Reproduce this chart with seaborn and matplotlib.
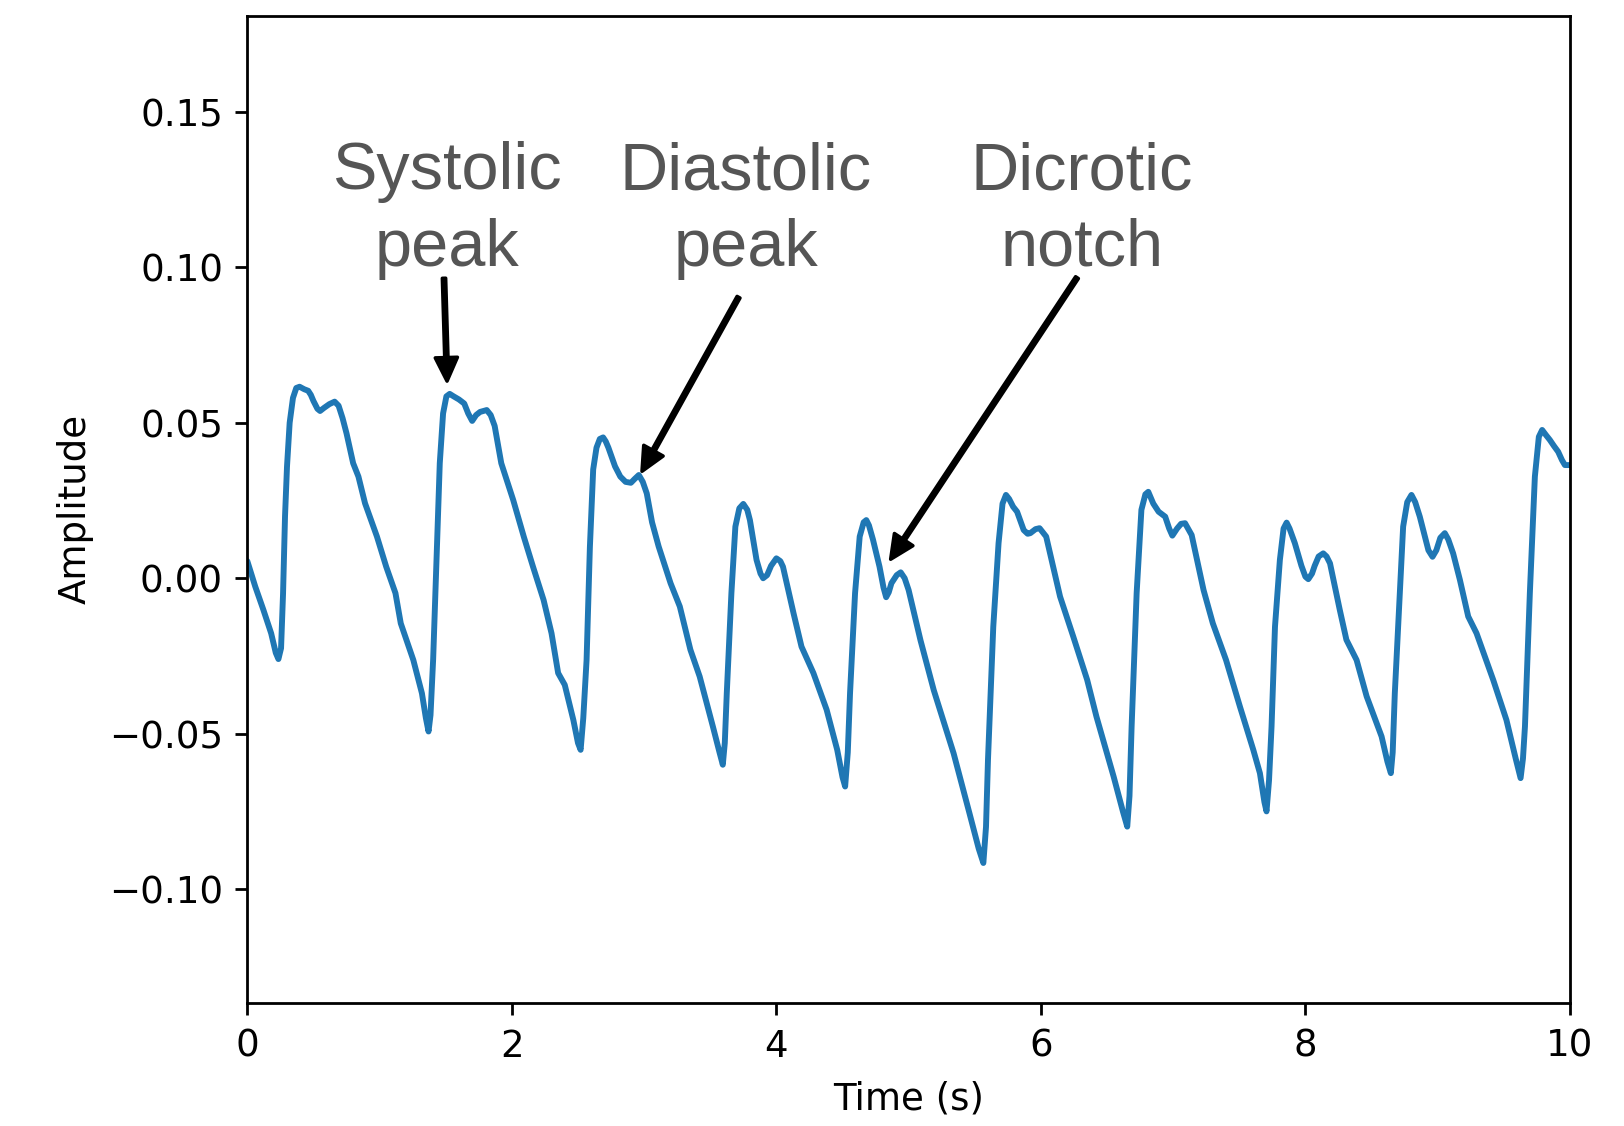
import matplotlib
matplotlib.use("Agg")
import matplotlib.pyplot as plt
import seaborn as sns

# ---- data (PPG waveform) ----
time_s = [
    0.00, 0.06, 0.12, 0.18, 0.215, 0.235, 0.255, 0.27, 0.285, 0.30, 0.32, 0.345, 0.37, 0.395,
    0.43, 0.46, 0.48, 0.50, 0.53, 0.55, 0.58, 0.62, 0.66, 0.69, 0.72, 0.75, 0.80, 0.84, 0.89,
    0.98, 1.05, 1.12, 1.16, 1.255, 1.32, 1.35, 1.37, 1.385, 1.405, 1.43, 1.455, 1.48, 1.505,
    1.53, 1.56, 1.60, 1.64, 1.67, 1.70, 1.73, 1.76, 1.81, 1.84, 1.87, 1.92, 2.01, 2.09, 2.16,
    2.24, 2.30, 2.35, 2.40, 2.465, 2.50, 2.52, 2.54, 2.565, 2.59, 2.615, 2.64, 2.665, 2.69,
    2.71, 2.73, 2.78, 2.82, 2.86, 2.90, 2.93, 2.96, 2.99, 3.02, 3.06, 3.11, 3.20, 3.27, 3.35,
    3.42, 3.52, 3.57, 3.595, 3.61, 3.625, 3.66, 3.69, 3.72, 3.75, 3.78, 3.80, 3.85, 3.88, 3.90,
    3.93, 3.96, 4.00, 4.03, 4.05, 4.13, 4.19, 4.28, 4.38, 4.46, 4.50, 4.52, 4.54, 4.557, 4.595,
    4.63, 4.66, 4.68, 4.70, 4.73, 4.78, 4.81, 4.83, 4.85, 4.87, 4.91, 4.94, 4.97, 5.00, 5.09,
    5.19, 5.34, 5.46, 5.53, 5.565, 5.585, 5.60, 5.64, 5.68, 5.71, 5.736, 5.76, 5.79, 5.82,
    5.87, 5.90, 5.92, 5.96, 5.99, 6.04, 6.145, 6.245, 6.35, 6.42, 6.55, 6.62, 6.653, 6.67,
    6.686, 6.724, 6.76, 6.79, 6.812, 6.85, 6.89, 6.94, 6.97, 6.994, 7.03, 7.06, 7.09, 7.14,
    7.23, 7.30, 7.40, 7.505, 7.606, 7.656, 7.69, 7.706, 7.725, 7.744, 7.77, 7.807, 7.835,
    7.858, 7.88, 7.92, 7.97, 8.00, 8.022, 8.05, 8.07, 8.10, 8.135, 8.16, 8.186, 8.26, 8.31,
    8.387, 8.463, 8.576, 8.62, 8.646, 8.66, 8.676, 8.714, 8.739, 8.77, 8.802, 8.83, 8.865,
    8.93, 8.961, 8.99, 9.02, 9.054, 9.08, 9.117, 9.168, 9.231, 9.294, 9.42, 9.52, 9.59, 9.627,
    9.645, 9.66, 9.697, 9.735, 9.765, 9.79, 9.82, 9.848, 9.88, 9.911, 9.94, 9.962, 10.0,
]
amplitude = [
    0.0055, -0.0027, -0.0100, -0.0177, -0.0240, -0.0260, -0.0225, -0.0050, 0.0200, 0.0360,
    0.0500, 0.0580, 0.0612, 0.0616, 0.0608, 0.0603, 0.0590, 0.0570, 0.0545, 0.0538, 0.0548,
    0.0560, 0.0568, 0.0555, 0.0515, 0.0466, 0.0370, 0.0327, 0.0241, 0.0134, 0.0037, -0.0048,
    -0.0145, -0.0263, -0.0370, -0.0450, -0.0493, -0.0440, -0.0260, 0.0050, 0.0370, 0.0530,
    0.0585, 0.0593, 0.0585, 0.0575, 0.0562, 0.0530, 0.0506, 0.0525, 0.0535, 0.0541, 0.0525,
    0.0490, 0.0370, 0.0252, 0.0134, 0.0037, -0.0070, -0.0177, -0.0305, -0.0343, -0.0456,
    -0.0530, -0.0552, -0.0450, -0.0263, 0.0100, 0.0350, 0.0420, 0.0448, 0.0453, 0.0440,
    0.0420, 0.0360, 0.0327, 0.0310, 0.0307, 0.0320, 0.0332, 0.0310, 0.0273, 0.0180, 0.0102,
    -0.0016, -0.0091, -0.0230, -0.0316, -0.0477, -0.0560, -0.0600, -0.0530, -0.0370, -0.0048,
    0.0166, 0.0225, 0.0239, 0.0220, 0.0187, 0.0059, 0.0015, 0.0000, 0.0010, 0.0040, 0.0064,
    0.0055, 0.0037, -0.0113, -0.0220, -0.0305, -0.0423, -0.0552, -0.0640, -0.0670, -0.0560,
    -0.0370, -0.0048, 0.0134, 0.0180, 0.0187, 0.0170, 0.0125, 0.0037, -0.0030, -0.0061,
    -0.0045, -0.0016, 0.0010, 0.0019, 0.0000, -0.0038, -0.0200, -0.0360, -0.0563, -0.0756,
    -0.0870, -0.0916, -0.0800, -0.0584, -0.0156, 0.0113, 0.0240, 0.0268, 0.0255, 0.0230,
    0.0214, 0.0155, 0.0143, 0.0145, 0.0158, 0.0161, 0.0134, -0.0059, -0.0188, -0.0327,
    -0.0445, -0.0638, -0.0750, -0.0799, -0.0700, -0.0477, -0.0048, 0.0220, 0.0270, 0.0278,
    0.0240, 0.0214, 0.0198, 0.0160, 0.0137, 0.0160, 0.0175, 0.0177, 0.0139, -0.0038, -0.0145,
    -0.0263, -0.0413, -0.0552, -0.0627, -0.0720, -0.0750, -0.0650, -0.0477, -0.0156, 0.0059,
    0.0160, 0.0179, 0.0160, 0.0113, 0.0040, 0.0005, -0.0003, 0.0015, 0.0040, 0.0070, 0.0080,
    0.0070, 0.0048, -0.0102, -0.0198, -0.0263, -0.0380, -0.0509, -0.0590, -0.0627, -0.0560,
    -0.0370, -0.0048, 0.0166, 0.0245, 0.0268, 0.0245, 0.0198, 0.0090, 0.0069, 0.0090, 0.0130,
    0.0145, 0.0125, 0.0080, -0.0005, -0.0123, -0.0177, -0.0327, -0.0456, -0.0580, -0.0643,
    -0.0580, -0.0477, -0.0048, 0.0327, 0.0455, 0.0477, 0.0460, 0.0445, 0.0425, 0.0407, 0.0380,
    0.0364, 0.0364,
]

x_ticks = [0, 2, 4, 6, 8, 10]
y_ticks = [-0.10, -0.05, 0.00, 0.05, 0.10, 0.15]

annotation_labels = ["Systolic\npeak", "Diastolic\npeak", "Dicrotic\nnotch"]
annotation_text_x = [1.51, 3.77, 6.31]
annotation_tail = [(1.487, 0.0965), (3.714, 0.0904), (6.273, 0.0967)]
annotation_tip = [(1.51, 0.0634), (2.984, 0.0344), (4.864, 0.0061)]

# ---- styling ----
sns.set_style("ticks")
plt.rcParams.update({
    "font.family": ["DejaVu Sans"],
    "axes.edgecolor": "black",
    "axes.linewidth": 0.8,
    "text.color": "black",
    "axes.labelcolor": "black",
    "xtick.color": "black",
    "ytick.color": "black",
    "xtick.labelsize": 10.7,
    "ytick.labelsize": 10.7,
    "axes.labelsize": 10.7,
    "axes.labelpad": 4.5,
    "xtick.major.size": 3.5,
    "ytick.major.size": 3.5,
    "xtick.major.width": 0.8,
    "ytick.major.width": 0.8,
    "xtick.major.pad": 3.8,
    "ytick.major.pad": 3.5,
})

DPI = 250
fig = plt.figure(figsize=(1624 / DPI, 1126 / DPI), dpi=DPI)
ax = fig.add_axes([0.1523, 0.1096, 0.8144, 0.8766])

sns.lineplot(x=time_s, y=amplitude, ax=ax, color="#1f77b4", linewidth=1.7)

ax.set_xlim(0, 10)
ax.set_ylim(-0.1365, 0.181)
ax.set_xticks(x_ticks)
ax.set_yticks(y_ticks)
ax.set_yticklabels([f"{v:.2f}".replace("-", "\u2212") for v in y_ticks])
ax.set_xlabel("Time (s)")
ax.set_ylabel("Amplitude")

for label, tx, tail, tip in zip(annotation_labels, annotation_text_x,
                                annotation_tail, annotation_tip):
    ax.text(tx, 0.1005, label, ha="center", va="baseline", multialignment="center",
            fontsize=19.2, color="#555555", family=["Liberation Sans", "DejaVu Sans"],
            linespacing=1.3)
    ax.annotate("", xy=tip, xytext=tail,
                arrowprops=dict(facecolor="black", edgecolor="black", width=0.96,
                                headwidth=6.4, headlength=6.8, shrink=0))

fig.savefig("out.png", dpi=DPI)
